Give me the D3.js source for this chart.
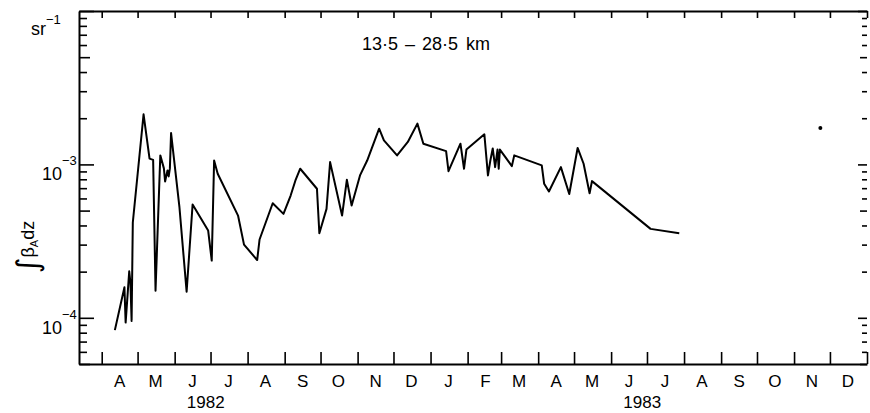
<!DOCTYPE html>
<html>
<head>
<meta charset="utf-8">
<script src="https://cdn.jsdelivr.net/npm/d3@7"></script>
<style>
  html, body { margin: 0; padding: 0; background: #fff; }
  svg { display: block; }
  text { font-family: "Liberation Sans", Arial, sans-serif; fill: #000; }
</style>
</head>
<body>
<div id="chart"></div>
<script>
// Data: integrated backscatter, 13.5 - 28.5 km
const obsDates = [
  "1982-04-12", "1982-04-20", "1982-04-21", "1982-04-24", "1982-04-25", "1982-04-26", "1982-04-27",
  "1982-05-06", "1982-05-11", "1982-05-14", "1982-05-16", "1982-05-20", "1982-05-23", "1982-05-24",
  "1982-05-26", "1982-05-27", "1982-05-28", "1982-05-29", "1982-06-05", "1982-06-11", "1982-06-16",
  "1982-06-29", "1982-07-02", "1982-07-04", "1982-07-07", "1982-07-24", "1982-07-29", "1982-08-09",
  "1982-08-11", "1982-08-22", "1982-08-31", "1982-09-06", "1982-09-10", "1982-09-14", "1982-09-28",
  "1982-09-30", "1982-10-06", "1982-10-09", "1982-10-19", "1982-10-23", "1982-10-27", "1982-11-03",
  "1982-11-09", "1982-11-19", "1982-11-23", "1982-12-04", "1982-12-13", "1982-12-21", "1982-12-26",
  "1983-01-14", "1983-01-16", "1983-01-26", "1983-01-29", "1983-01-31", "1983-02-15", "1983-02-18",
  "1983-02-20", "1983-02-22", "1983-02-24", "1983-02-26", "1983-02-27", "1983-02-28", "1983-03-10",
  "1983-03-12", "1983-04-04", "1983-04-06", "1983-04-10", "1983-04-20", "1983-04-27", "1983-05-04",
  "1983-05-09", "1983-05-14", "1983-05-16", "1983-07-04", "1983-07-28"
];
const obsValues = [
  8.31e-5, 1.58e-4, 9.31e-5, 2.01e-4, 1.70e-4, 9.55e-5, 4.18e-4,
  2.12e-3, 1.09e-3, 1.07e-3, 1.50e-4, 1.145e-3, 9.42e-4, 7.74e-4,
  9.14e-4, 8.35e-4, 9.42e-4, 1.60e-3, 5.26e-4, 1.48e-4, 5.48e-4,
  3.71e-4, 2.36e-4, 1.06e-3, 8.69e-4, 4.64e-4, 3.00e-4, 2.38e-4,
  3.24e-4, 5.58e-4, 4.76e-4, 6.27e-4, 7.86e-4, 9.37e-4, 6.94e-4,
  3.56e-4, 5.13e-4, 1.035e-3, 4.64e-4, 7.94e-4, 5.40e-4, 8.48e-4,
  1.06e-3, 1.71e-3, 1.435e-3, 1.145e-3, 1.40e-3, 1.845e-3, 1.365e-3,
  1.22e-3, 9.04e-4, 1.365e-3, 9.37e-4, 1.25e-3, 1.57e-3, 8.48e-4,
  1.06e-3, 1.27e-3, 9.6e-4, 1.25e-3, 9.37e-4, 1.25e-3, 9.75e-4,
  1.145e-3, 9.85e-4, 7.48e-4, 6.66e-4, 9.6e-4, 6.41e-4, 1.28e-3,
  1.01e-3, 6.49e-4, 7.78e-4, 3.80e-4, 3.56e-4
];
// lone point in November 1983
const loneDates = ["1983-11-23"];
const loneValues = [1.73e-3];

const monthLetters = ["J", "F", "M", "A", "M", "J", "J", "A", "S", "O", "N", "D"];
const yearLabels = [1982, 1983];
const decadeLabels = [-4, -3];

const parse = d3.timeParse("%Y-%m-%d");
const series = obsDates.map((d, i) => ({ date: parse(d), value: obsValues[i] }));
const lone = loneDates.map((d, i) => ({ date: parse(d), value: loneValues[i] }));

const W = 870, H = 413;
const plotLeft = 79, plotRight = 867, plotTop = 11, plotBottom = 364;

const svg = d3.select("#chart").append("svg")
  .attr("width", W)
  .attr("height", H);

svg.append("rect").attr("width", W).attr("height", H).attr("fill", "#fff");

// Scales
const x = d3.scaleTime()
  .domain([new Date(1982, 2, 13), new Date(1984, 0, 1)])
  .range([plotLeft, plotRight]);

const y = d3.scaleLog()
  .domain([5e-5, 1e-2])
  .range([plotBottom, plotTop]);

// log ticks 1..9 per decade
const logTicks = [];
[-5, -4, -3].forEach(e => {
  for (let m = 1; m <= 9; m++) {
    const v = m * Math.pow(10, e);
    if (v >= 5e-5 && v <= 1e-2) logTicks.push(v);
  }
});
logTicks.push(1e-2);
const mant = v => Math.round(v / Math.pow(10, Math.floor(Math.log10(v) + 1e-9)));

const months = d3.timeMonth.range(new Date(1982, 3, 1), new Date(1984, 0, 2));

// Axes
const axisStyle = g => {
  g.selectAll("path").attr("stroke", "#000").attr("stroke-width", 2);
  g.selectAll(".tick line").attr("stroke", "#000").attr("stroke-width", 1.6);
};

svg.append("g")
  .attr("transform", `translate(0,${plotBottom})`)
  .call(d3.axisBottom(x).tickValues(months).tickSizeInner(-12).tickSizeOuter(0).tickFormat(""))
  .call(axisStyle);

svg.append("g")
  .attr("transform", `translate(0,${plotTop})`)
  .call(d3.axisTop(x).tickValues(months).tickSizeInner(-7).tickSizeOuter(0).tickFormat(""))
  .call(axisStyle);

svg.append("g")
  .attr("transform", `translate(${plotLeft},0)`)
  .call(d3.axisLeft(y).tickValues(logTicks).tickSizeOuter(0).tickFormat(""))
  .call(axisStyle)
  .call(g => g.selectAll(".tick line")
    .attr("x2", d => mant(d) === 1 ? 15 : mant(d) === 5 ? 11 : 8));

svg.append("g")
  .attr("transform", `translate(${plotRight},0)`)
  .call(d3.axisRight(y).tickValues(logTicks).tickSizeOuter(0).tickFormat(""))
  .call(axisStyle)
  .call(g => g.select(".domain").remove())
  .call(g => g.selectAll(".tick line")
    .attr("x2", d => mant(d) === 1 ? -9 : mant(d) === 5 ? -7 : -5));

// Month letters centred in each month
const monthMid = months.slice(0, -1).map(m => new Date(m.getFullYear(), m.getMonth(), 16));
svg.append("g").selectAll("text")
  .data(monthMid)
  .join("text")
  .attr("x", d => x(d))
  .attr("y", 387)
  .attr("text-anchor", "middle")
  .style("font-size", "17px")
  .text(d => monthLetters[d.getMonth()]);

svg.append("g").selectAll("text")
  .data(yearLabels)
  .join("text")
  .attr("x", d => x(new Date(d, 5, 27)))
  .attr("y", 408)
  .attr("text-anchor", "middle")
  .style("font-size", "17px")
  .text(d => d);

// Decade labels 10^-n
decadeLabels.forEach(e => {
  const t = svg.append("text")
    .attr("x", 42)
    .attr("y", y(Math.pow(10, e)) + 16)
    .style("font-size", "18px");
  t.append("tspan").text("10");
  t.append("tspan").attr("dy", -15).style("font-size", "13px").text("\u2212" + Math.abs(e));
});

// Unit
const unit = svg.append("text")
  .attr("x", 31)
  .attr("y", 35)
  .style("font-size", "18px");
unit.append("tspan").text("sr");
unit.append("tspan").attr("dy", -11).style("font-size", "13px").text("\u22121");

// Y label  ∫ β_A dz
const yl = svg.append("text")
  .attr("transform", "translate(34,247) rotate(-90)")
  .attr("text-anchor", "middle")
  .style("font-size", "18px");
yl.append("tspan").style("font-family", "DejaVu Sans").style("font-size", "30px").attr("dy", 4).text("\u222B");
yl.append("tspan").attr("dy", -4).text("\u03B2");
yl.append("tspan").attr("dy", 4).style("font-size", "11px").text("A");
yl.append("tspan").attr("dy", -4).text("dz");

// Title
const title = svg.append("text")
  .attr("x", 362)
  .attr("y", 50)
  .style("font-size", "18px");
title.append("tspan").text("13\u00B75");
title.append("tspan").attr("dx", 7).text("\u2013");
title.append("tspan").attr("dx", 7).text("28\u00B75");
title.append("tspan").attr("dx", 8).text("km");

// Line
const line = d3.line()
  .x(d => x(d.date))
  .y(d => y(d.value));

svg.append("path")
  .datum(series)
  .attr("d", line)
  .attr("fill", "none")
  .attr("stroke", "#000")
  .attr("stroke-width", 2)
  .attr("stroke-linejoin", "round");

svg.append("g").selectAll("circle")
  .data(lone)
  .join("circle")
  .attr("cx", d => x(d.date))
  .attr("cy", d => y(d.value))
  .attr("r", 2)
  .attr("fill", "#000");
</script>
</body>
</html>
